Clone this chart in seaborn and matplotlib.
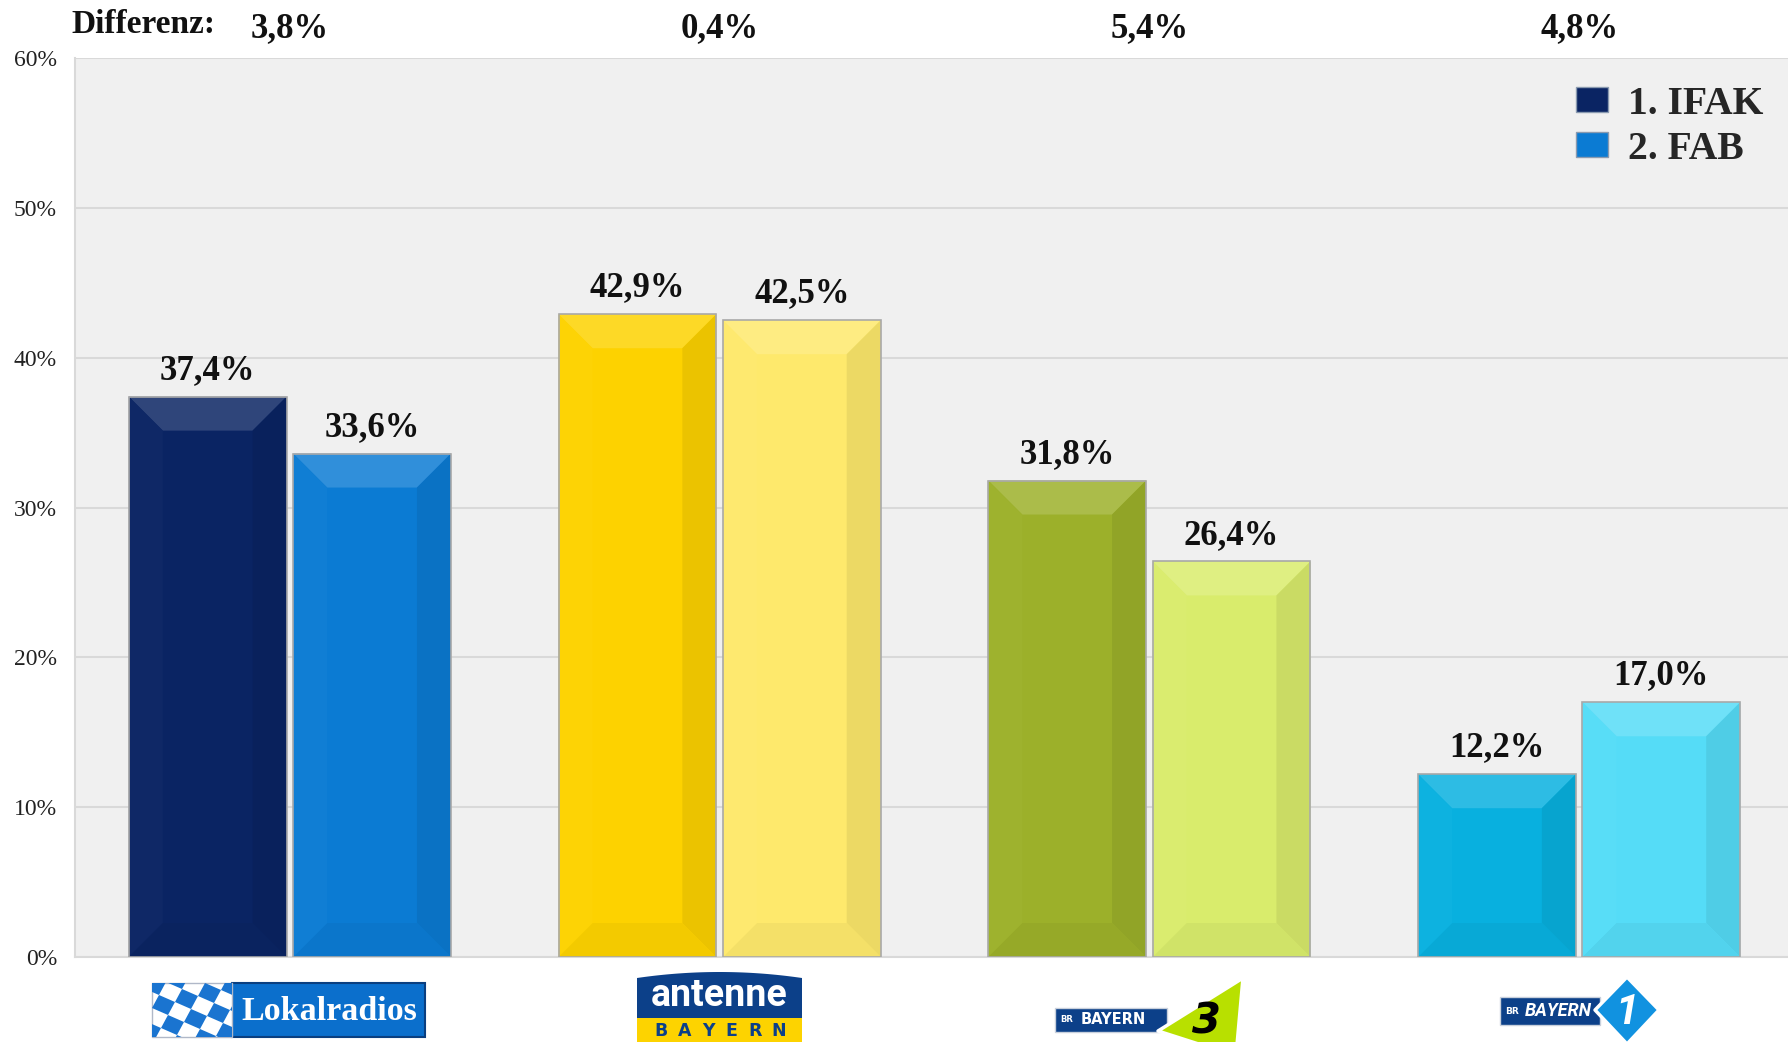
import numpy as np
import pandas as pd
import matplotlib
matplotlib.use("Agg")
import matplotlib.pyplot as plt
import matplotlib.colors as mcolors
import matplotlib.transforms as mtransforms
from matplotlib.patches import Polygon, Rectangle, Patch
import seaborn as sns

# ---------------- data ----------------
stations = ["Lokalradios", "antenne BAYERN", "BAYERN 3", "BAYERN 1"]
surveys = ["1. IFAK", "2. FAB"]
ifak_values = [37.4, 42.9, 31.8, 12.2]
fab_values = [33.6, 42.5, 26.4, 17.0]
differenz_labels = ["3,8%", "0,4%", "5,4%", "4,8%"]
y_ticks = [0, 10, 20, 30, 40, 50, 60]
y_tick_labels = ["0%", "10%", "20%", "30%", "40%", "50%", "60%"]

bar_colors = {
    "1. IFAK": ["#0a2463", "#fdd200", "#9cb02a", "#08b0df"],
    "2. FAB": ["#0b7bd3", "#fee96c", "#d9ec6c", "#55dcf7"],
}

df = pd.DataFrame({
    "station": stations * 2,
    "survey": [surveys[0]] * len(stations) + [surveys[1]] * len(stations),
    "value": ifak_values + fab_values,
})

# ---------------- style ----------------
sns.set_theme(style="white")
plt.rcParams["font.family"] = ["Liberation Serif", "DejaVu Serif"]

W, H = 1788, 1042
fig = plt.figure(figsize=(W / 100, H / 100), dpi=100)
fig.patch.set_facecolor("white")

ax_left, ax_width, ax_top, ax_bottom = 75, 1719, 58, 957
ax = fig.add_axes([ax_left / W, 1 - ax_bottom / H, ax_width / W, (ax_bottom - ax_top) / H])
ax.set_facecolor("#f0f0f0")

sns.barplot(data=df, x="station", y="value", hue="survey", order=stations,
            hue_order=surveys, palette=[bar_colors[s][0] for s in surveys],
            width=0.765, gap=0.04, saturation=1, legend=False, ax=ax,
            edgecolor="none", linewidth=0, zorder=3)

ax.set_xlim(-0.5, len(stations) - 0.5)
ax.set_ylim(0, 60)
ax.set_yticks(y_ticks)
ax.set_yticklabels(y_tick_labels, fontsize=17, color="#222222")
ax.set_xlabel("")
ax.set_ylabel("")
ax.yaxis.grid(True, color="#d9d9d9", linewidth=1.5, zorder=0)
ax.xaxis.grid(False)
ax.set_axisbelow(True)
for s in ["top", "right"]:
    ax.spines[s].set_visible(False)
for s in ["left", "bottom"]:
    ax.spines[s].set_color("#d9d9d9")
    ax.spines[s].set_linewidth(1.5)
ax.tick_params(axis="y", length=6, width=1.5, color="#d9d9d9", pad=7)
ax.tick_params(axis="x", which="major", length=0, labelbottom=False)
ax.set_xticks(np.arange(len(stations) + 1) - 0.5, minor=True)
ax.tick_params(axis="x", which="minor", length=8, width=1.5, color="#d9d9d9")


def shade(c, f):
    r = np.array(mcolors.to_rgb(c))
    r = r + (1 - r) * f if f >= 0 else r * (1 + f)
    return tuple(np.clip(r, 0, 1))


inv = ax.transData.inverted()
D = 34
for hi, cont in enumerate(ax.containers):
    for bar in cont:
        x0, w, h = bar.get_x(), bar.get_width(), bar.get_height()
        ci = int(round(x0 + w / 2))
        col = bar_colors[surveys[hi]][ci]
        bar.set_facecolor(col)
        px0, py0 = ax.transData.transform((x0, 0))
        px1, py1 = ax.transData.transform((x0 + w, h))
        d = min(D, (px1 - px0) / 2.5, (py1 - py0) / 2.5)
        outer = [(px0, py1), (px1, py1), (px1, py0), (px0, py0)]
        inner = [(px0 + d, py1 - d), (px1 - d, py1 - d), (px1 - d, py0 + d), (px0 + d, py0 + d)]
        faces = [
            ([outer[0], outer[1], inner[1], inner[0]], 0.15),
            ([outer[1], outer[2], inner[2], inner[1]], -0.07),
            ([outer[2], outer[3], inner[3], inner[2]], -0.04),
            ([outer[3], outer[0], inner[0], inner[3]], 0.02),
        ]
        for pts, f in faces:
            ax.add_patch(Polygon(inv.transform(pts), closed=True, facecolor=shade(col, f),
                                 edgecolor="none", zorder=3.1))
        ax.add_patch(Rectangle((x0, 0), w, h, fill=False, edgecolor="#a9a9a9",
                               linewidth=1.2, zorder=3.2))
    ax.bar_label(cont, fmt=lambda v: f"{v:.1f}%".replace(".", ","), padding=7,
                 fontsize=25, fontweight="bold", color="#111111", zorder=5)

handles = [Patch(facecolor=bar_colors[s][0], edgecolor="#8a9ab0", linewidth=1) for s in surveys]
ax.legend(handles, surveys, loc="upper right", bbox_to_anchor=(1 - 15 / ax_width, 1 - 12 / 899),
          frameon=False, borderaxespad=0,
          prop={"family": "Liberation Serif", "weight": "bold", "size": 28.5},
          handlelength=0.8, handleheight=0.6, handletextpad=0.5, labelspacing=0.2)

# ---------------- overlay (pixel coordinates) ----------------
lx = fig.add_axes([0, 0, 1, 1])
lx.set_xlim(0, W)
lx.set_ylim(H, 0)
lx.patch.set_alpha(0)
lx.axis("off")

lx.text(71, 33, "Differenz:", fontsize=24, fontweight="bold", ha="left", va="baseline", color="#111111")
blend = mtransforms.blended_transform_factory(ax.transData, lx.transData)
for i, lab in enumerate(differenz_labels):
    lx.text(i, 37, lab, transform=blend, fontsize=25, fontweight="bold", ha="center",
            va="baseline", color="#111111")

# Logo 1: Lokalradios
lx.add_patch(Rectangle((232, 983), 193, 54, facecolor="#0b6fcc", edgecolor="#0a3f80", lw=1.5))
flag = Rectangle((152, 983), 80, 54, facecolor="white", edgecolor="#b0b8c8", lw=1)
lx.add_patch(flag)
u = np.array([16.0, 7.0])
v = np.array([-7.0, 13.0])
origin = np.array([150.0, 975.0])
for i in range(-6, 10):
    for j in range(-6, 10):
        if (i + j) % 2 == 0:
            o = origin + i * u + j * v
            p = Polygon([o, o + u, o + u + v, o + v], closed=True, facecolor="#1a74d0",
                        edgecolor="none")
            lx.add_patch(p)
            p.set_clip_path(flag)
lx.text(329, 1012, "Lokalradios", fontsize=24.5, fontweight="bold", color="white",
        ha="center", va="center", family="Liberation Serif")

# Logo 2: antenne BAYERN
xs = np.linspace(637, 802, 40)
top = 978 - 6 * (1 - ((xs - 719.5) / 82.5) ** 2)
pts = [(637, 1018)] + list(zip(xs, top)) + [(802, 1018)]
lx.add_patch(Polygon(pts, closed=True, facecolor="#0c4089", edgecolor="none"))
lx.add_patch(Rectangle((637, 1018), 165, 30, facecolor="#fdd300", edgecolor="none"))
lx.text(719, 996, "antenne", fontsize=27, fontweight="bold", color="white", ha="center",
        va="center", family="Roboto")
for k, ch in enumerate("BAYERN"):
    lx.text(661 + k * 23.6, 1031, ch, fontsize=12.5, fontweight="bold", color="#0c4089",
            ha="center", va="center", family="DejaVu Sans")

# Logo 3: BAYERN 3
lx.add_patch(Rectangle((1055, 1008), 112, 24, facecolor="#0c4089", edgecolor="#c8d0dc", lw=1))
lx.text(1067, 1020, "BR", fontsize=6, fontweight="bold", color="white", ha="center",
        va="center", family="DejaVu Sans")
lx.text(1113, 1020, "BAYERN", fontsize=10.5, fontweight="bold", color="white", ha="center",
        va="center", family="DejaVu Sans")
lx.add_patch(Polygon([(1158, 1031), (1243, 978), (1236, 1056)], closed=True,
                     facecolor="#b8e000", edgecolor="white", lw=2.5, joinstyle="round"))
lx.text(1206, 1022, "3", fontsize=30, fontweight="bold", style="italic", color="black",
        ha="center", va="center", family="DejaVu Sans")

# Logo 4: BAYERN 1
lx.add_patch(Rectangle((1500, 997), 100, 28, facecolor="#0c4089", edgecolor="#c8d0dc", lw=1))
lx.text(1512, 1011, "BR", fontsize=6.5, fontweight="bold", color="white", ha="center",
        va="center", family="DejaVu Sans")
lx.text(1558, 1011, "BAYERN", fontsize=13, fontweight="bold", style="italic", color="white",
        ha="center", va="center", family="Roboto")
lx.add_patch(Polygon([(1595, 1010), (1627, 977), (1659, 1010), (1627, 1044)], closed=True,
                     facecolor="#1192e0", edgecolor="white", lw=2.5, joinstyle="round"))
lx.text(1627, 1012, "1", fontsize=30, fontweight="bold", style="italic", color="white",
        ha="center", va="center", family="Roboto")

fig.savefig("out.png", dpi=100, facecolor="white")
